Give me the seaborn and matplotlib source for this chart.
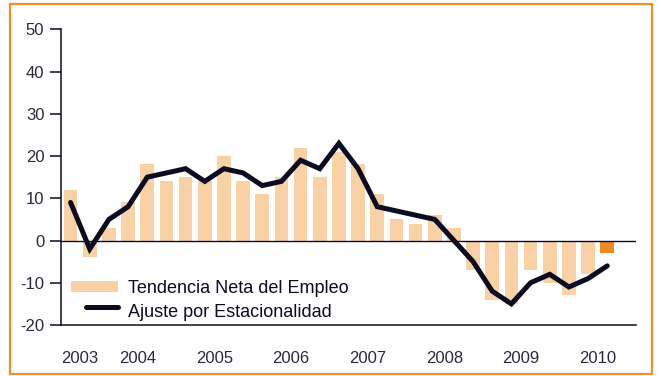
import matplotlib
matplotlib.use("Agg")
import matplotlib.pyplot as plt
from matplotlib.lines import Line2D
from matplotlib.patches import Patch, Rectangle
from matplotlib.legend_handler import HandlerBase
from matplotlib.ticker import FixedLocator
import matplotlib.transforms as mtransforms
import numpy as np
import pandas as pd
import seaborn as sns

# Quarterly series, 2003 Q3 to 2010 Q3
years = [2003, 2004, 2005, 2006, 2007, 2008, 2009, 2010]
quarters_per_year = [2, 4, 4, 4, 4, 4, 4, 3]
net_trend = [12, -4,
             3, 9, 18, 14,
             15, 14, 20, 14,
             11, 15, 22, 15,
             21, 18, 11, 5,
             4, 6, 3, -7,
             -14, -15, -7, -10,
             -13, -8, -3]
seasonal_adj = [9, -2,
                5, 8, 15, 16,
                17, 14, 17, 16,
                13, 14, 19, 17,
                23, 17, 8, 7,
                6, 5, 0, -5,
                -12, -15, -10, -8,
                -11, -9, -6]
yticks = [-20, -10, 0, 10, 20, 30, 40, 50]
label_bars = "Tendencia Neta del Empleo"
label_line = "Ajuste por Estacionalidad"

PEACH = "#F8D1A5"
ORANGE = "#EE8A24"
NAVY = "#0B0B22"
TEXT = "#2A2A3A"

n = len(net_trend)
df = pd.DataFrame({
    "q": np.arange(n),
    "net": net_trend,
    "adj": seasonal_adj,
    "kind": ["prev"] * (n - 1) + ["last"],
})

sns.set_theme(style="white")
plt.rcParams["font.family"] = ["Liberation Sans", "DejaVu Sans"]

fig = plt.figure(figsize=(6.61, 3.76), dpi=100)
ax = fig.add_axes([61 / 661, 1 - 325 / 376, (636 - 61) / 661, (325 - 29.3) / 376])

sns.barplot(data=df, x="q", y="net", hue="kind", native_scale=True,
            palette={"prev": PEACH, "last": ORANGE}, width=0.71,
            dodge=False, legend=False, ax=ax, saturation=1, linewidth=0)
sns.lineplot(data=df, x="q", y="adj", color=NAVY, linewidth=3.6, ax=ax)
for l in ax.lines:
    l.set_solid_joinstyle("miter")

ax.axhline(0, color=NAVY, linewidth=1.0, zorder=3)

total_q = sum(quarters_per_year)
ax.set_xlim(-0.5, total_q - 0.5 + 1)
ax.set_ylim(-20, 50)
ax.set_yticks(yticks)
ax.set_yticklabels([str(v) for v in yticks])
ax.set_xlabel("")
ax.set_ylabel("")

# year boundaries as long ticks, quarter boundaries as short ones
bounds = np.concatenate([[0], np.cumsum(quarters_per_year)]) - 0.5
bounds[-1] += 1
ax.xaxis.set_major_locator(FixedLocator(bounds))
ax.xaxis.set_minor_locator(FixedLocator(np.arange(-0.5, bounds[-1] + 0.01, 1.0)))
ax.set_xticklabels([])
ax.tick_params(axis="x", which="major", direction="out", length=13.7, width=1.1, color=NAVY)
ax.tick_params(axis="x", which="minor", direction="out", length=4.3, width=1.1, color=NAVY)
ax.tick_params(axis="y", which="major", direction="out", length=8, width=1.1, color=NAVY,
               labelsize=12, labelcolor=TEXT, pad=4, left=True)

trans = mtransforms.blended_transform_factory(ax.transData, ax.transAxes)
centers = (bounds[:-1] + bounds[1:]) / 2
for yr, c in zip(years, centers):
    ax.text(c, -0.114, str(yr), transform=trans, ha="center", va="center",
            fontsize=12, color=TEXT)

for side in ["top", "right"]:
    ax.spines[side].set_visible(False)
for side in ["left", "bottom"]:
    ax.spines[side].set_color(NAVY)
    ax.spines[side].set_linewidth(1.1)


class ShortLine(HandlerBase):
    def create_artists(self, legend, orig_handle, xdescent, ydescent,
                       width, height, fontsize, trans):
        y = height / 2 - ydescent + 2.5
        line = Line2D([width * 0.33 - xdescent, width - xdescent], [y, y],
                      color=orig_handle.get_color(),
                      linewidth=orig_handle.get_linewidth(),
                      solid_capstyle="round")
        line.set_transform(trans)
        return [line]


h_bar = Patch(facecolor=PEACH, edgecolor="none")
h_line = Line2D([], [], color=NAVY, linewidth=3.6)
leg = ax.legend([h_bar, h_line], [label_bars, label_line],
                handler_map={Line2D: ShortLine()},
                loc="upper left", bbox_to_anchor=(71 / 661, 1 - 280 / 376),
                bbox_transform=fig.transFigure, frameon=False, fontsize=13,
                handlelength=2.6, handleheight=0.5, handletextpad=0.55,
                labelspacing=0.38, borderpad=0, borderaxespad=0)
for t in leg.get_texts():
    t.set_color(NAVY)

# orange frame around the whole figure
fig.patches.append(Rectangle((10 / 661, 1 - 374 / 376), 642 / 661, 370 / 376,
                             transform=fig.transFigure, fill=False,
                             edgecolor="#F0902A", linewidth=1.6))

fig.savefig("out.png", dpi=100)
